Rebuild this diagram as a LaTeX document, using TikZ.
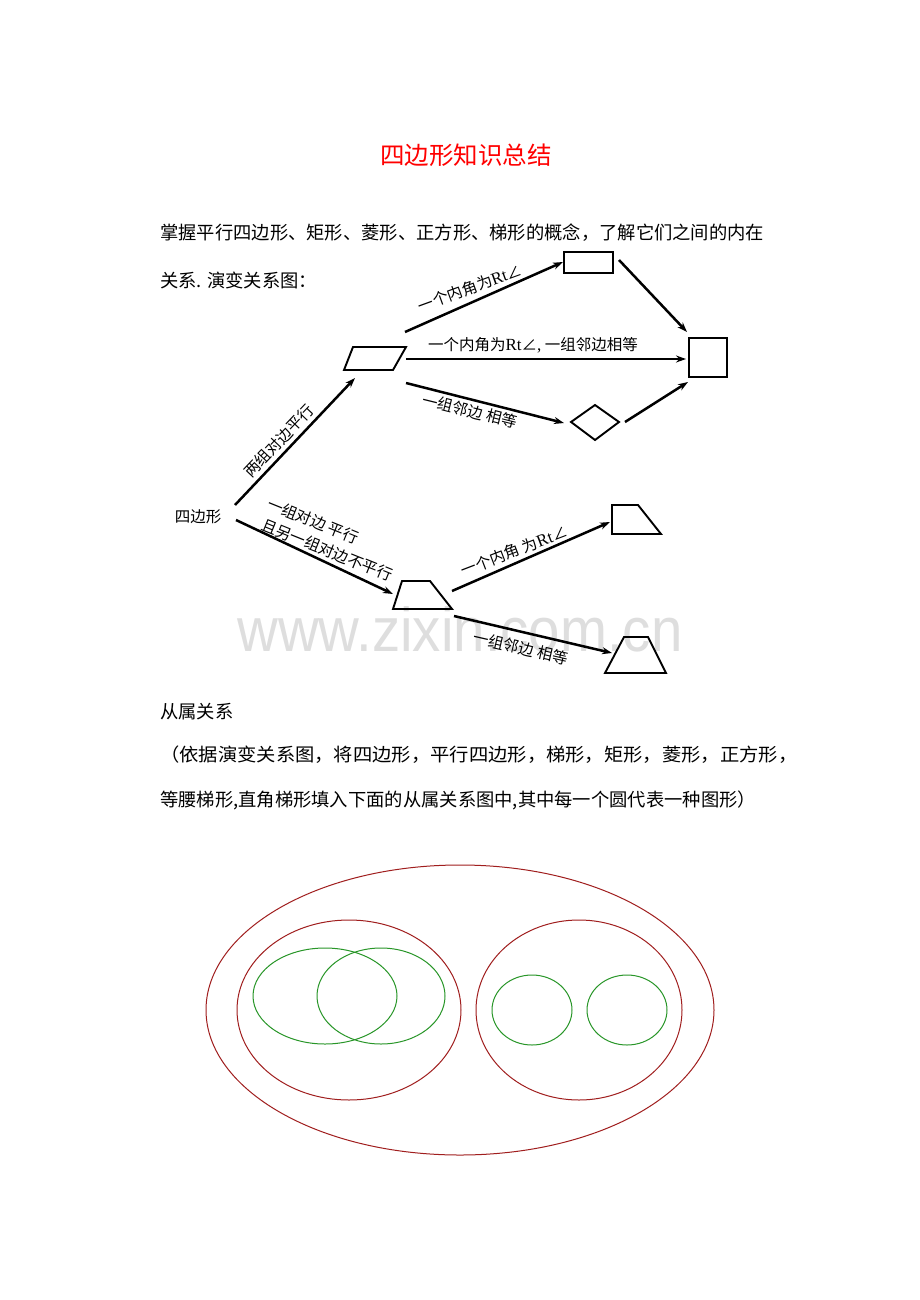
\documentclass[tikz,border=0pt]{standalone}
\usepackage{fontspec}
\setmainfont{Liberation Serif}
\newfontfamily\cjk{Noto Sans CJK SC}
\newfontfamily\wmfont{Liberation Sans}
\usetikzlibrary{arrows.meta}
\definecolor{ered}{RGB}{160,30,30}
\definecolor{egreen}{RGB}{40,150,40}
\definecolor{wmgray}{RGB}{222,222,222}
\newcommand{\rtx}{{\rmfamily\fontsize{17}{17}\selectfont Rt}}
\begin{document}
\begin{tikzpicture}[x=1pt,y=-1pt,
  body/.style={anchor=west,inner sep=0pt,font=\cjk\fontsize{18.3}{20}\selectfont},
  lbl/.style={inner sep=0pt,font=\cjk\fontsize{15.5}{17}\selectfont},
  arr/.style={line width=2.5pt,-{Stealth[length=10pt,width=7pt]}},
  shp/.style={line width=1.9pt,line join=miter},
  outerell/.style={draw=ered,line width=1pt},
  innerell/.style={draw=egreen,line width=1pt}]
\fill[white] (0,0) rectangle (920,1300);
\useasboundingbox (0,0) rectangle (920,1300);

% watermark
\node[font=\wmfont\fontsize{62}{64}\selectfont, text=wmgray, anchor=base, xscale=0.91, inner sep=0pt] (wm) at (460,651) {www.zixin.com.cn};

% title and text
\node[font=\cjk\fontsize{24.5}{26}\selectfont, text=red, inner sep=0pt] (title) at (466,155) {四边形知识总结};
\node[body] (l1) at (160,233) {掌握平行四边形、矩形、菱形、正方形、梯形的概念，了解它们之间的内在};
\node[body] (l2) at (160,280) {关系. 演变关系图：};
\node[body] (l3) at (160,712) {从属关系};
\node[body, xscale=1.055] (l4) at (160,755) {（依据演变关系图，将四边形，平行四边形，梯形，矩形，菱形，正方形，};
\node[body] (l5) at (160,800) {等腰梯形,直角梯形填入下面的从属关系图中,其中每一个圆代表一种图形）};

% diagram start node
\node[lbl] (quad) at (198,517) {四边形};

% shapes
\draw[shp] (353,347) -- (406,347) -- (393,370) -- (344,370) -- cycle;
\draw[shp] (564,252) rectangle (613,273);
\draw[shp] (689,338) rectangle (727,377);
\draw[shp] (571,422) -- (595,405) -- (619,422) -- (595,440) -- cycle;
\draw[shp] (393,609) -- (402,581) -- (430,581) -- (452,609) -- cycle;
\draw[shp] (612,505) -- (638,505) -- (661,534) -- (612,534) -- cycle;
\draw[shp] (624,637) -- (648,637) -- (666,673) -- (605,673) -- cycle;

% connector endpoints
\coordinate (q1) at (235,505);
\coordinate (paraIn) at (355,378);
\coordinate (q2) at (236,520);
\coordinate (trapIn) at (393,594);
\coordinate (pA) at (405,332);
\coordinate (rectIn) at (563,262);
\coordinate (pB) at (406,359);
\coordinate (sqInM) at (686,359);
\coordinate (pC) at (406,383);
\coordinate (rhIn) at (564,423);
\coordinate (rectOut) at (619,260);
\coordinate (sqInT) at (687,332);
\coordinate (rhOut) at (625,422);
\coordinate (sqInB) at (688,382);
\coordinate (tA) at (452,591);
\coordinate (rtIn) at (610,522);
\coordinate (tB) at (454,616);
\coordinate (itIn) at (612,653);

% connectors
\draw[arr] (q1) -- (paraIn);
\draw[arr] (q2) -- (trapIn);
\draw[arr] (pA) -- (rectIn);
\draw[arr] (pB) -- (sqInM);
\draw[arr] (pC) -- (rhIn);
\draw[arr] (rectOut) -- (sqInT);
\draw[arr] (rhOut) -- (sqInB);
\draw[arr] (tA) -- (rtIn);
\draw[arr] (tB) -- (itIn);

% labels
\node[lbl, rotate=46.6] (lab1) at (279,441) {两组对边平行};
\node[lbl, rotate=-22] (lab2) at (313,521) {一组对边 平行};
\node[lbl, rotate=-22] (lab3) at (327,550) {且另一组对边不平行};
\node[lbl, rotate=20] (lab4) at (470,288) {一个内角为\rtx∠};
\node[lbl] (lab5) at (533,345) {一个内角为\rtx∠{\rmfamily\fontsize{17}{17}\selectfont ,} 一组邻边相等};
\node[lbl, rotate=-14] (lab6) at (470,411) {一组邻边 相等};
\node[lbl, rotate=21] (lab7) at (514,551) {一个内角 为\rtx∠};
\node[lbl, rotate=-13] (lab8) at (521,648) {一组邻边 相等};

% subordinate relation ellipses
\draw[outerell] (460,1010) ellipse [x radius=254, y radius=145];
\draw[outerell] (349,1010) ellipse [x radius=112, y radius=90];
\draw[outerell] (579,1010) ellipse [x radius=103, y radius=90];
\draw[innerell] (325,996) ellipse [x radius=72, y radius=48];
\draw[innerell] (381,996) ellipse [x radius=64, y radius=48];
\draw[innerell] (532,1010) ellipse [x radius=40, y radius=35];
\draw[innerell] (627,1010) ellipse [x radius=40, y radius=35];
\end{tikzpicture}
\end{document}
